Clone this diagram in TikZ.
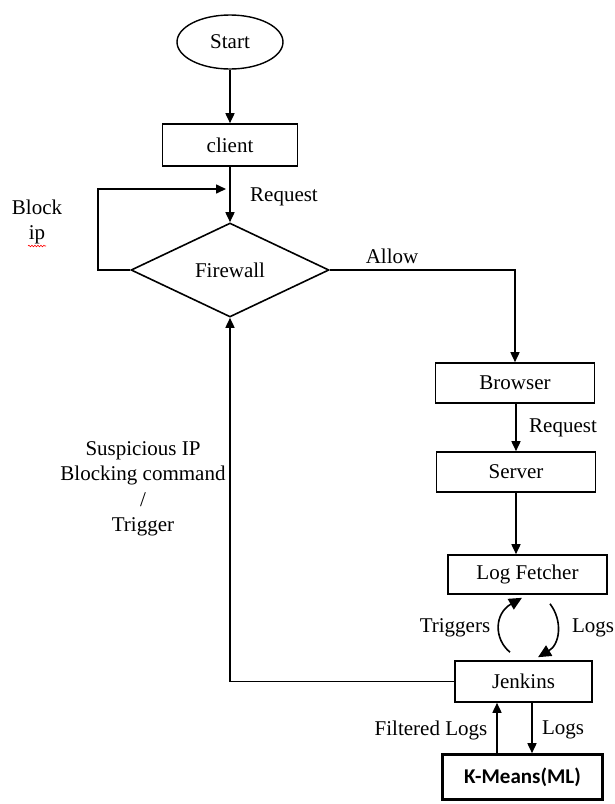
\documentclass[tikz,border=0pt]{standalone}
\usepackage{fontspec}
\setmainfont{Liberation Serif}
\newfontfamily\kfont{Carlito}
\usetikzlibrary{shapes.geometric,arrows.meta,decorations.pathmorphing}

\begin{document}
\begin{tikzpicture}[x=1pt,y=-1pt,
  txt/.style={font=\fontsize{21}{25.5}\selectfont, inner sep=0pt, align=center},
  boxnode/.style={txt, draw, line width=1.6pt, rectangle},
  flow/.style={line width=1.6pt, -{Triangle[length=10pt,width=9pt]}},
  curvearrow/.style={line width=1.6pt, -{Triangle[length=13pt,width=12pt]}}
]
\useasboundingbox (0,0) rectangle (614,804);

% process blocks
\node[txt, draw, line width=1.4pt, ellipse, minimum width=106pt, minimum height=54pt] (start) at (230,42) {Start};
\node[boxnode, minimum width=135pt, minimum height=42pt] (client) at (230,145) {client};
\node[txt, draw, line width=1.6pt, diamond, aspect=2.1, minimum width=198pt, minimum height=94pt] (fw) at (230,270) {Firewall};
\node[boxnode, minimum width=159pt, minimum height=40pt] (browser) at (515,383) {Browser};
\node[boxnode, minimum width=159pt, minimum height=40pt] (server) at (516,472) {Server};
\node[boxnode, minimum width=159pt, minimum height=39pt] (logf) at (527.5,574.5) {Log Fetcher};
\node[boxnode, minimum width=137pt, minimum height=41pt] (jenkins) at (523.5,681.5) {Jenkins};
\node[draw, line width=2.6pt, rectangle, inner sep=0pt, minimum width=160pt, minimum height=45pt,
      font=\kfont\bfseries\fontsize{21}{25}\selectfont] (km) at (522.5,777) {K-Means(ML)};

% main flow
\draw[flow] (start) -- (client);
\draw[flow] (client) -- (fw.north);
\coordinate (loopend) at (226,189);
\draw[flow] (fw.west) -- (98,270) -- (98,189) -- (loopend);
\draw[flow] (fw.east) -- (515,270) -- (browser.north);
\draw[flow] (browser.south -| server.north) -- (server.north);
\draw[flow] (server.south) -- (server.south |- logf.north);

% log fetcher / jenkins exchange
\draw[curvearrow] ([xshift=-13.5pt,yshift=8pt]jenkins.north)
  .. controls +(-16,-13) and +(-28,16) .. ([xshift=-5.5pt,yshift=-3pt]logf.south);
\draw[curvearrow] ([xshift=22.5pt,yshift=-9pt]logf.south)
  .. controls +(13,17) and +(22,-13) .. ([xshift=14.5pt,yshift=3pt]jenkins.north);

% jenkins / k-means
\draw[flow] (km.north -| 497,0) -- (jenkins.south -| 497,0);
\draw[flow] (jenkins.south -| 532,0) -- (km.north -| 532,0);

% feedback to the firewall
\draw[flow] (jenkins.west) -- (230,681.5) -- (fw.south);

% labels
\node[txt] (lreq1) at (284,197) {Request};
\node[txt] (lallow) at (392,256) {Allow};
\node[txt] (lblock) at (37,222) {Block\\ip};
\draw[red, line width=0.6pt, decorate, decoration={snake, segment length=3pt, amplitude=0.8pt}] (28,246) -- (46,246);
\node[txt] (lreq2) at (563,428) {Request};
\node[txt] (ltrig) at (455,628) {Triggers};
\node[txt] (llogs1) at (593,628) {Logs};
\node[txt] (lfilt) at (431,730) {Filtered Logs};
\node[txt] (llogs2) at (563,730) {Logs};
\node[txt] (lsusp) at (143,489) {Suspicious IP\\Blocking command\\/\\Trigger};
\end{tikzpicture}
\end{document}
